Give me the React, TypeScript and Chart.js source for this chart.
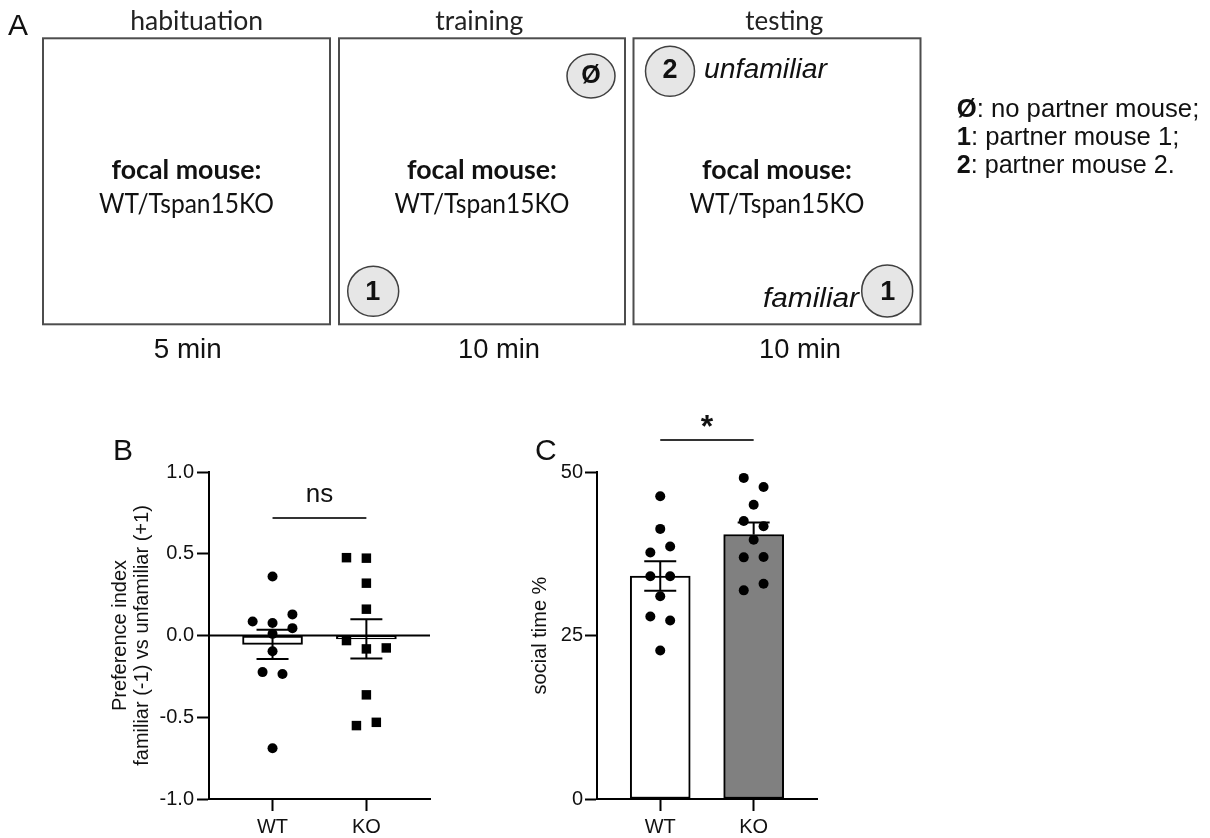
import React, { useEffect, useRef } from "react";
import { Chart, registerables } from "chart.js";

Chart.register(...registerables);

// ---------- data ----------
const groups = ["WT", "KO"];
const groupPos = [1, 2];

// Panel B: preference index
const bWT = [0.361, 0.086, 0.076, 0.129, 0.045, 0.01, -0.096, -0.224, -0.235, -0.69];
const bWTJitter = [0, -2, 0, 2, 2, 0, 0, -1, 1, 0];
const bKO = [0.476, 0.473, 0.32, 0.161, -0.031, -0.082, -0.076, -0.363, -0.551, -0.531];
const bKOJitter = [-2, 0, 0, 0, -2, 0, 2, 0, -1, 1];
const bYTicks = [-1, -0.5, 0, 0.5, 1];
const bYTickLabels = ["-1.0", "-0.5", "0.0", "0.5", "1.0"];
const bYTitle = ["Preference index", "familiar (-1) vs unfamiliar (+1)"];
const bSig = "ns";

// Panel C: social time %
const cWT = [46.3, 41.3, 37.7, 38.6, 34.05, 34.05, 31.0, 27.9, 27.3, 22.7];
const cWTJitter = [0, 0, -1, 1, -1, 1, 0, -1, 1, 0];
const cKO = [49.1, 47.7, 45.0, 42.5, 41.7, 39.65, 36.95, 37.0, 31.9, 32.9];
const cKOJitter = [-1, 1, 0, -1, 1, 0, -1, 1, -1, 1];
const cYTicks = [0, 25, 50];
const cYTickLabels = ["0", "25", "50"];
const cYTitle = "social time %";
const cSig = "*";

// Panel A texts
const stages = ["habituation", "training", "testing"];
const durations = ["5 min", "10 min", "10 min"];

// ---------- helpers ----------
const mean = (a: number[]) => a.reduce((s, v) => s + v, 0) / a.length;
const sem = (a: number[]) => {
  const m = mean(a);
  const v = a.reduce((s, x) => s + (x - m) * (x - m), 0) / (a.length - 1);
  return Math.sqrt(v / a.length);
};

const AR = "'Liberation Sans', Arial, sans-serif";
const CAL = "Lato, 'Noto Sans', sans-serif";
const X_MIN = 0.323;
const X_MAX = 2.678;
const JITTER = 0.106;

const extrasPlugin = {
  id: "extras",
  beforeDatasetsDraw(chart: any, _a: any, opts: any) {
    if (!opts.zeroLine) return;
    const { ctx, chartArea } = chart;
    const y = chart.scales.y.getPixelForValue(0);
    ctx.save();
    ctx.strokeStyle = "#000";
    ctx.lineWidth = 2;
    ctx.beginPath();
    ctx.moveTo(chartArea.left, y);
    ctx.lineTo(chartArea.right, y);
    ctx.stroke();
    ctx.restore();
  },
  afterDatasetsDraw(chart: any, _a: any, opts: any) {
    const { ctx } = chart;
    const xs = chart.scales.x;
    const ys = chart.scales.y;
    ctx.save();
    ctx.strokeStyle = "#000";
    ctx.lineWidth = 2;
    opts.means.forEach((m: number, i: number) => {
      const x = xs.getPixelForValue(groupPos[i]);
      const hi = ys.getPixelForValue(m + opts.sems[i]);
      const down = opts.errDown[i];
      const lo = ys.getPixelForValue(down ? m - opts.sems[i] : m);
      ctx.beginPath();
      ctx.moveTo(x, hi);
      ctx.lineTo(x, lo);
      ctx.moveTo(x - 16, hi);
      ctx.lineTo(x + 16, hi);
      if (down) {
        ctx.moveTo(x - 16, lo);
        ctx.lineTo(x + 16, lo);
      }
      ctx.stroke();
    });
    // significance bracket
    const sy = ys.getPixelForValue(opts.sigValue);
    const x1 = xs.getPixelForValue(groupPos[0]);
    const x2 = xs.getPixelForValue(groupPos[1]);
    ctx.strokeStyle = "#333";
    ctx.beginPath();
    ctx.moveTo(x1, sy);
    ctx.lineTo(x2, sy);
    ctx.stroke();
    ctx.fillStyle = "#111";
    ctx.font = opts.sigFont;
    ctx.textAlign = "center";
    ctx.textBaseline = "alphabetic";
    ctx.fillText(opts.sigText, (x1 + x2) / 2, sy - opts.sigTextOffset);
    ctx.restore();
  },
};

function buildConfig(p: {
  wt: number[];
  ko: number[];
  wtJ: number[];
  koJ: number[];
  koStyle: string;
  koRadius: number;
  barColors: string[];
  yMin: number;
  yMax: number;
  yTicks: number[];
  yLabels: string[];
  yTitle: any;
  yWidth: number;
  titlePad: number;
  tickPad: number;
  padTop: number;
  padRight: number;
  zeroLine: boolean;
  errDown: boolean[];
  sigValue: number;
  sigText: string;
  sigFont: string;
  sigTextOffset: number;
}) {
  const means = [mean(p.wt), mean(p.ko)];
  const sems = [sem(p.wt), sem(p.ko)];
  return {
    type: "scatter",
    data: {
      datasets: [
        {
          type: "bar",
          data: means.map((m, i) => ({ x: groupPos[i], y: m })),
          backgroundColor: p.barColors,
          borderColor: "#000",
          borderWidth: 2,
          borderSkipped: false,
          barThickness: 60,
          grouped: false,
          order: 3,
        },
        {
          type: "scatter",
          data: p.wt.map((v, i) => ({ x: groupPos[0] + p.wtJ[i] * JITTER, y: v })),
          pointStyle: "circle",
          pointRadius: 5,
          pointBorderWidth: 0,
          pointBackgroundColor: "#000",
          order: 1,
        },
        {
          type: "scatter",
          data: p.ko.map((v, i) => ({ x: groupPos[1] + p.koJ[i] * JITTER, y: v })),
          pointStyle: p.koStyle,
          pointRadius: p.koRadius,
          pointBorderWidth: 0,
          pointBackgroundColor: "#000",
          order: 1,
        },
      ],
    },
    options: {
      animation: false,
      responsive: false,
      maintainAspectRatio: false,
      devicePixelRatio: 1,
      events: [],
      layout: { padding: { top: p.padTop, right: p.padRight, bottom: 0, left: 0 } },
      plugins: {
        legend: { display: false },
        tooltip: { enabled: false },
        extras: {
          means,
          sems,
          errDown: p.errDown,
          zeroLine: p.zeroLine,
          sigValue: p.sigValue,
          sigText: p.sigText,
          sigFont: p.sigFont,
          sigTextOffset: p.sigTextOffset,
        },
      },
      scales: {
        x: {
          type: "linear",
          min: X_MIN,
          max: X_MAX,
          offset: false,
          afterBuildTicks: (s: any) => {
            s.ticks = groupPos.map((v) => ({ value: v }));
          },
          afterFit: (s: any) => {
            s.height = 39;
          },
          ticks: {
            callback: (v: number) => groups[groupPos.indexOf(v)],
            color: "#111",
            font: { family: AR, size: 20 },
            padding: 4,
            maxRotation: 0,
            autoSkip: false,
          },
          grid: {
            offset: false,
            drawOnChartArea: false,
            drawTicks: true,
            tickLength: 12,
            tickWidth: 2,
            tickColor: "#000",
          },
          border: { color: "#000", width: 2 },
        },
        y: {
          type: "linear",
          min: p.yMin,
          max: p.yMax,
          beginAtZero: false,
          afterBuildTicks: (s: any) => {
            s.ticks = p.yTicks.map((v) => ({ value: v }));
          },
          afterFit: (s: any) => {
            s.width = p.yWidth;
          },
          ticks: {
            callback: (v: number) => p.yLabels[p.yTicks.indexOf(v)],
            color: "#111",
            font: { family: AR, size: 20 },
            padding: p.tickPad,
          },
          title: {
            display: true,
            text: p.yTitle,
            color: "#111",
            font: { family: AR, size: 20, lineHeight: 1.1 },
            padding: { top: p.titlePad, bottom: 0 },
          },
          grid: { drawOnChartArea: false, drawTicks: true, tickLength: 12, tickWidth: 2, tickColor: "#000" },
          border: { color: "#000", width: 2 },
        },
      },
    },
    plugins: [extrasPlugin],
  };
}

function DiagramA() {
  const boxes = [
    { x: 43, w: 287 },
    { x: 339, w: 286 },
    { x: 633.5, w: 287 },
  ];
  const stageX = [196.7, 479.3, 784.3];
  const stageW = [133, 88, 78];
  const durX = [187.7, 499, 800];
  const durW = [68, 82, 82];
  const circ = { fill: "#e6e6e6", stroke: "#404040", strokeWidth: 1.5 };
  return (
    <svg
      width={1210}
      height={838}
      style={{ position: "absolute", left: 0, top: 0, pointerEvents: "none" }}
    >
      <text x={8} y={35} fontFamily={AR} fontSize={30} fill="#111">A</text>
      {stages.map((s, i) => (
        <text key={s} x={stageX[i]} y={30} textAnchor="middle" fontFamily={CAL} fontSize={27} fill="#222"
          textLength={stageW[i]} lengthAdjust="spacingAndGlyphs">{s}</text>
      ))}
      {boxes.map((b, i) => (
        <g key={i}>
          <rect x={b.x} y={38.3} width={b.w} height={286} fill="none" stroke="#4d4d4d" strokeWidth={2} />
          <text x={b.x + b.w / 2} y={179} textAnchor="middle" fontFamily={CAL} fontWeight="bold" fontSize={27}
            fill="#111" textLength={150} lengthAdjust="spacingAndGlyphs">focal mouse:</text>
          <text x={b.x + b.w / 2} y={213} textAnchor="middle" fontFamily={CAL} fontSize={27}
            fill="#111" textLength={175} lengthAdjust="spacingAndGlyphs">WT/Tspan15KO</text>
          <text x={durX[i]} y={358} textAnchor="middle" fontFamily={AR} fontSize={28} fill="#111"
            textLength={durW[i]} lengthAdjust="spacingAndGlyphs">{durations[i]}</text>
        </g>
      ))}
      {/* training */}
      <ellipse cx={591} cy={76} rx={24} ry={22} {...circ} />
      <text x={591} y={83} textAnchor="middle" fontFamily={AR} fontWeight="bold" fontSize={25} fill="#111">Ø</text>
      <ellipse cx={373.2} cy={291.3} rx={25.5} ry={25} {...circ} />
      <text x={372.8} y={300} textAnchor="middle" fontFamily={AR} fontWeight="bold" fontSize={27} fill="#111">1</text>
      {/* testing */}
      <ellipse cx={670} cy={71.3} rx={24.5} ry={25} {...circ} />
      <text x={670} y={78.3} textAnchor="middle" fontFamily={AR} fontWeight="bold" fontSize={27} fill="#111">2</text>
      <text x={704} y={77.5} fontFamily={AR} fontStyle="italic" fontSize={27} fill="#111"
        textLength={123} lengthAdjust="spacingAndGlyphs">unfamiliar</text>
      <ellipse cx={887.2} cy={291} rx={25.5} ry={26} {...circ} />
      <text x={887.8} y={299.5} textAnchor="middle" fontFamily={AR} fontWeight="bold" fontSize={27} fill="#111">1</text>
      <text x={859} y={306.7} textAnchor="end" fontFamily={AR} fontStyle="italic" fontSize={27} fill="#111"
        textLength={96} lengthAdjust="spacingAndGlyphs">familiar</text>
      {/* legend */}
      <text x={956.7} y={116.7} fontFamily={AR} fontSize={26} fill="#111" textLength={242.6} lengthAdjust="spacingAndGlyphs">
        <tspan fontWeight="bold">Ø</tspan>: no partner mouse;
      </text>
      <text x={956.7} y={145} fontFamily={AR} fontSize={26} fill="#111" textLength={222.6} lengthAdjust="spacingAndGlyphs">
        <tspan fontWeight="bold">1</tspan>: partner mouse 1;
      </text>
      <text x={956.7} y={173.3} fontFamily={AR} fontSize={26} fill="#111" textLength={218} lengthAdjust="spacingAndGlyphs">
        <tspan fontWeight="bold">2</tspan>: partner mouse 2.
      </text>
      {/* panel letters */}
      <text x={113} y={460} fontFamily={AR} fontSize={30} fill="#111">B</text>
      <text x={535} y={459.5} fontFamily={AR} fontSize={30} fill="#111">C</text>
    </svg>
  );
}

export default function App() {
  const bRef = useRef<HTMLCanvasElement | null>(null);
  const cRef = useRef<HTMLCanvasElement | null>(null);

  useEffect(() => {
    const bCfg = buildConfig({
      wt: bWT,
      ko: bKO,
      wtJ: bWTJitter,
      koJ: bKOJitter,
      koStyle: "rect",
      koRadius: 6.7,
      barColors: ["#ffffff", "#ffffff"],
      yMin: -1,
      yMax: 1,
      yTicks: bYTicks,
      yLabels: bYTickLabels,
      yTitle: bYTitle,
      yWidth: 109,
      titlePad: 9,
      tickPad: 3,
      padTop: 42,
      padRight: 30,
      zeroLine: true,
      errDown: [true, true],
      sigValue: 0.718,
      sigText: bSig,
      sigFont: `26px ${AR}`,
      sigTextOffset: 16,
    });
    const cCfg = buildConfig({
      wt: cWT,
      ko: cKO,
      wtJ: cWTJitter,
      koJ: cKOJitter,
      koStyle: "circle",
      koRadius: 5,
      barColors: ["#ffffff", "#808080"],
      yMin: 0,
      yMax: 50,
      yTicks: cYTicks,
      yLabels: cYTickLabels,
      yTitle: cYTitle,
      yWidth: 97,
      titlePad: 29,
      tickPad: 2,
      padTop: 72,
      padRight: 23,
      zeroLine: false,
      errDown: [true, false],
      sigValue: 54.9,
      sigText: cSig,
      sigFont: `bold 32px ${AR}`,
      sigTextOffset: 3,
    });
    const b = new Chart(bRef.current as HTMLCanvasElement, bCfg as any);
    const c = new Chart(cRef.current as HTMLCanvasElement, cCfg as any);
    return () => {
      b.destroy();
      c.destroy();
    };
  }, []);

  return (
    <div style={{ position: "absolute", left: 0, top: 0, width: 1210, height: 838, background: "#fff", overflow: "hidden" }}>
      <canvas ref={bRef} width={360} height={408} style={{ position: "absolute", left: 100, top: 430, width: 360, height: 408 }} />
      <canvas ref={cRef} width={340} height={438} style={{ position: "absolute", left: 500, top: 400, width: 340, height: 438 }} />
      <DiagramA />
    </div>
  );
}
